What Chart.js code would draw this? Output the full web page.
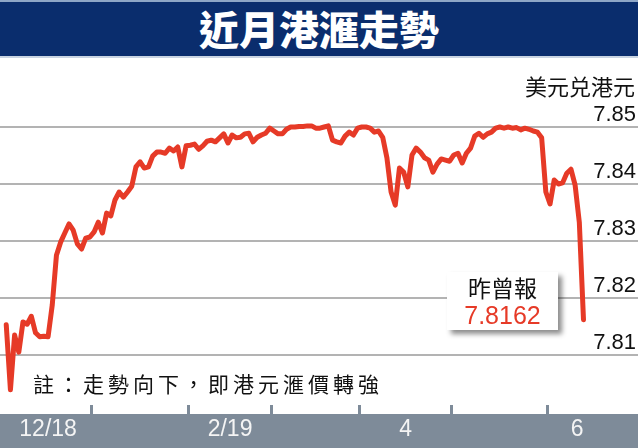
<!DOCTYPE html>
<html>
<head>
<meta charset="utf-8">
<script src="https://cdn.jsdelivr.net/npm/chart.js@4.4.1/dist/chart.umd.min.js"></script>
<style>
  html, body { margin: 0; padding: 0; background: #fff; }
  #wrap { position: relative; width: 638px; height: 448px; overflow: hidden; font-family: "Noto Sans CJK TC", "Noto Sans", sans-serif; }
  #chart { position: absolute; left: 0; top: 0; }
  #title { position: absolute; left: 0; top: 0; width: 638px; height: 58px; box-sizing: border-box;
           background: #0a2d6d; border-top: 2px solid #8ea6c6; border-bottom: 2px solid #c9d4e2;
           color: #fff; font-weight: 900; font-size: 40px; line-height: 52px; text-align: center; }
  #unit { position: absolute; right: 3px; top: 70px; font-size: 22px; line-height: 30px; color: #111; }
  #note { position: absolute; left: 33px; top: 368px; font-size: 21px; line-height: 30px; letter-spacing: 4px; color: #111; }
  #callout { position: absolute; left: 447px; top: 272px; width: 111px; height: 58px; background: #fff;
             box-shadow: 4px 4px 5px rgba(0,0,0,0.45); text-align: center; }
  #callout .t { font-size: 23px; line-height: 28px; color: #111; margin-top: 1px; }
  #callout .v { font-family: "Liberation Sans", Arial, sans-serif; font-size: 25px; line-height: 28px; color: #e63a27; }
</style>
</head>
<body>
<div id="wrap">
  <canvas id="chart" width="638" height="448"></canvas>
  <div id="title">近月港滙走勢</div>
  <div id="unit">美元兑港元</div>
  <div id="note">註：走勢向下，即港元滙價轉強</div>
  <div id="callout"><div class="t">昨曾報</div><div class="v">7.8162</div></div>
</div>
<script>
// weekday index, 0 = 2018-12-03
const days = [];
for (let i = 0; i <= 138; i++) days.push(i);

const rates = [
  7.8153, 7.8039, 7.8135, 7.8105, 7.8158, 7.8154, 7.8168, 7.8139, 7.8132, 7.8133,
  7.8132, 7.8188, 7.8275, 7.8298, 7.8314, 7.8330, 7.8319, 7.8295, 7.8286, 7.8305,
  7.8307, 7.8316, 7.8333, 7.8314, 7.8349, 7.8344, 7.8372, 7.8386, 7.8377, 7.8386,
  7.8396, 7.8430, 7.8439, 7.8428, 7.8430, 7.8449, 7.8456, 7.8456, 7.8454, 7.8463,
  7.8458, 7.8465, 7.8430, 7.8467, 7.8468, 7.8470, 7.8461, 7.8467, 7.8475, 7.8477,
  7.8474, 7.8481, 7.8488, 7.8472, 7.8486, 7.8481, 7.8482, 7.8488, 7.8489, 7.8474,
  7.8482, 7.8486, 7.8489, 7.8498, 7.8493, 7.8488, 7.8488, 7.8496, 7.8500, 7.8500,
  7.8501, 7.8501, 7.8502, 7.8502, 7.8498, 7.8498, 7.8500, 7.8502, 7.8477, 7.8474,
  7.8472, 7.8484, 7.8491, 7.8486, 7.8498, 7.8500, 7.8500, 7.8498, 7.8491, 7.8493,
  7.8482, 7.8446, 7.8386, 7.8363, 7.8428, 7.8421, 7.8395, 7.8451, 7.8463, 7.8456,
  7.8446, 7.8442, 7.8421, 7.8435, 7.8444, 7.8442, 7.8440, 7.8451, 7.8454, 7.8437,
  7.8454, 7.8463, 7.8484, 7.8489, 7.8482, 7.8488, 7.8491, 7.8498, 7.8500, 7.8498,
  7.8500, 7.8498, 7.8499, 7.8495, 7.8498, 7.8496, 7.8493, 7.8491, 7.8481, 7.8386,
  7.8365, 7.8407, 7.8400, 7.8402, 7.8419, 7.8426, 7.8398, 7.8333, 7.8162
];

const yTicks = [7.81, 7.82, 7.83, 7.84, 7.85];
const monthBreaks = [20.5, 43.5, 63.5, 84.5, 106.5, 129.5];
const labelPos = [10, 53.5, 95.5, 136.5];
const monthLabels = ['12/18', '2/19', '4', '6'];

const bandColor = '#7e8b99';

const bandPlugin = {
    id: 'band',
    beforeDraw(chart) {
        const c = chart.ctx;
        c.save();
        c.fillStyle = bandColor;
        c.fillRect(0, 414, chart.width, chart.height - 414);
        c.restore();
    }
};

const ctx = document.getElementById('chart').getContext('2d');
new Chart(ctx, {
    type: 'line',
    data: {
        datasets: [{
            data: days.map((d, i) => ({ x: d, y: rates[i] })),
            borderColor: '#e63a27',
            borderWidth: 5,
            borderJoinStyle: 'round',
            borderCapStyle: 'round',
            pointRadius: 0,
            tension: 0,
            fill: false
        }]
    },
    options: {
        responsive: false,
        animation: false,
        layout: { padding: { top: 58, left: 0, right: 0, bottom: 0 } },
        plugins: { legend: { display: false }, tooltip: { enabled: false } },
        scales: {
            x: {
                type: 'linear',
                min: -1.494,
                max: 151.03,
                afterBuildTicks: axis => { axis.ticks = [...monthBreaks, ...labelPos].sort((a, b) => a - b).map(v => ({ value: v })); },
                afterFit: axis => { axis.height = 43; },
                border: { display: false },
                grid: {
                    drawOnChartArea: false,
                    drawTicks: true,
                    tickLength: 9,
                    lineWidth: 3,
                    color: c => (c.tick && monthBreaks.includes(c.tick.value)) ? bandColor : 'rgba(0,0,0,0)'
                },
                ticks: {
                    autoSkip: false,
                    maxRotation: 0,
                    padding: 2,
                    color: '#f4f4f4',
                    font: { family: '"Liberation Sans", Arial, sans-serif', size: 23 },
                    callback: v => { const i = labelPos.indexOf(v); return i >= 0 ? monthLabels[i] : ''; }
                }
            },
            y: {
                position: 'right',
                min: 7.80123,
                max: 7.86211,
                afterBuildTicks: axis => { axis.ticks = yTicks.map(v => ({ value: v })); },
                afterFit: axis => { axis.width = 0; },
                border: { display: false },
                grid: { color: '#b3b3b3', lineWidth: 2, drawTicks: false },
                ticks: {
                    mirror: true,
                    padding: -2,
                    labelOffset: -12,
                    color: '#111',
                    font: { family: '"Liberation Sans", Arial, sans-serif', size: 22 },
                    callback: v => v.toFixed(2)
                }
            }
        }
    },
    plugins: [bandPlugin]
});
</script>
</body>
</html>
